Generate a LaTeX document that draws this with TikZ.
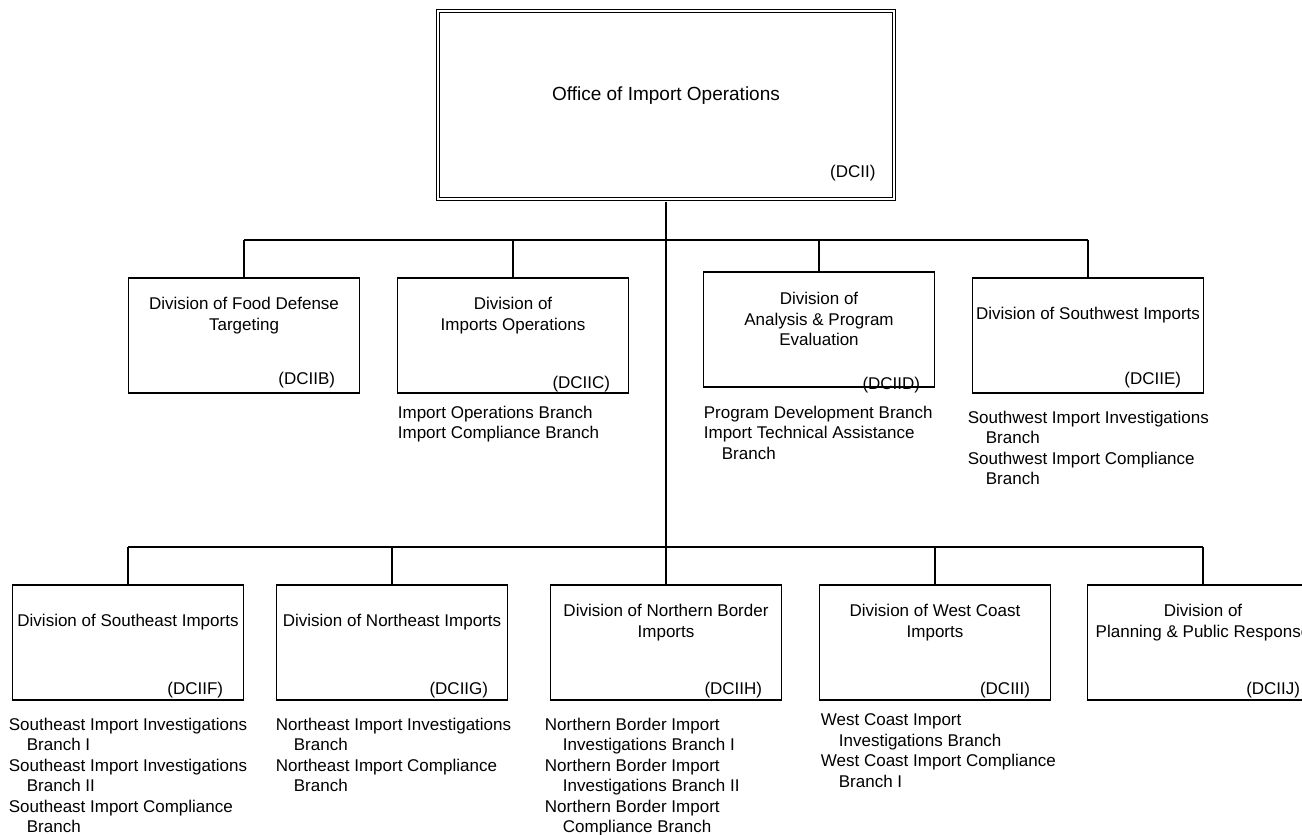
\documentclass[tikz,border=0pt]{standalone}
\usepackage{fontspec}
\setmainfont{Liberation Sans}
\usetikzlibrary{positioning,calc}

\tikzset{
  divbox/.style={draw,line width=1.6pt,minimum width=231pt,minimum height=115pt,inner sep=0pt},
  divname/.style={align=center,inner sep=0pt,font=\fontsize{17}{20.5}\selectfont},
  divcode/.style={inner sep=0pt,anchor=base east,font=\fontsize{17}{20.5}\selectfont},
  branches/.style={align=left,inner sep=0pt,font=\fontsize{17}{20.5}\selectfont},
  link/.style={line width=1.6pt}
}
\newcommand{\subline}{\hspace*{18pt}}

\begin{document}
\begin{tikzpicture}[x=1pt,y=-1pt,line cap=butt]
        % page size and clipping
        \useasboundingbox (0,0) rectangle (1302,835);
        \fill[white] (0,0) rectangle (1302,835);
        \clip (0,0) rectangle (1302,835);
        % draw the office
        \node[draw,double,double distance=1.8pt,line width=1.4pt,minimum width=456pt,minimum height=188pt] (office) at (666,105) {};
        \node[anchor=base,inner sep=0pt,font=\fontsize{19}{23}\selectfont] (officename) at ($(office.center)+(0,-5)$) {Office of Import Operations};
        \node[divcode] (officecode) at ($(office.south east)+(-19,-22)$) {(DCII)};
        % draw the first row of divisions
        \node[divbox] (dcIIb) at (244,335.5) {};
        \node[divbox] (dcIIc) at (513,335.5) {};
        \node[divbox] (dcIId) at (819,329.5) {};
        \node[divbox] (dcIIe) at (1088,335.5) {};
        \node[divname,below=20pt of dcIIb.north] (dcIIbname) {Division of Food Defense\\Targeting};
        \node[divname,below=20pt of dcIIc.north] (dcIIcname) {Division of\\Imports Operations};
        \node[divname,below=21pt of dcIId.north] (dcIIdname) {Division of\\Analysis \& Program\\Evaluation};
        \node[divname,below=30pt of dcIIe.north] (dcIIename) {Division of Southwest Imports};
        \node[divcode] (dcIIbcode) at ($(dcIIb.south east)+(-25,-9)$) {(DCIIB)};
        \node[divcode] (dcIIccode) at ($(dcIIc.south east)+(-19,-5)$) {(DCIIC)};
        \node[divcode] (dcIIdcode) at ($(dcIId.south east)+(-15,2)$) {(DCIID)};
        \node[divcode] (dcIIecode) at ($(dcIIe.south east)+(-23,-9)$) {(DCIIE)};
        \node[branches,below right=12pt and 1pt of dcIIc.south west] (dcIIcbr) {Import Operations Branch\\Import Compliance Branch};
        \node[branches,below right=18pt and 1pt of dcIId.south west] (dcIIdbr) {Program Development Branch\\Import Technical Assistance\\\subline Branch};
        \node[branches,below right=17pt and -4pt of dcIIe.south west] (dcIIebr) {Southwest Import Investigations\\\subline Branch\\Southwest Import Compliance\\\subline Branch};
        % draw the second row of divisions
        \node[divbox] (dcIIf) at (128,642.5) {};
        \node[divbox] (dcIIg) at (392,642.5) {};
        \node[divbox] (dcIIh) at (666,642.5) {};
        \node[divbox] (dcIIi) at (935,642.5) {};
        \node[divbox] (dcIIj) at (1203,642.5) {};
        \node[divname,below=30pt of dcIIf.north] (dcIIfname) {Division of Southeast Imports};
        \node[divname,below=30pt of dcIIg.north] (dcIIgname) {Division of Northeast Imports};
        \node[divname,below=20pt of dcIIh.north] (dcIIhname) {Division of Northern Border\\Imports};
        \node[divname,below=20pt of dcIIi.north] (dcIIiname) {Division of West Coast\\Imports};
        \node[divname,below=20pt of dcIIj.north] (dcIIjname) {Division of\\Planning \& Public Response};
        \node[divcode] (dcIIfcode) at ($(dcIIf.south east)+(-21,-6)$) {(DCIIF)};
        \node[divcode] (dcIIgcode) at ($(dcIIg.south east)+(-20,-6)$) {(DCIIG)};
        \node[divcode] (dcIIhcode) at ($(dcIIh.south east)+(-20,-6)$) {(DCIIH)};
        \node[divcode] (dcIIicode) at ($(dcIIi.south east)+(-21,-6)$) {(DCIII)};
        \node[divcode] (dcIIjcode) at ($(dcIIj.south east)+(-19,-6)$) {(DCIIJ)};
        \node[branches,below right=17pt and -3pt of dcIIf.south west] (dcIIfbr) {Southeast Import Investigations\\\subline Branch I\\Southeast Import Investigations\\\subline Branch II\\Southeast Import Compliance\\\subline Branch};
        \node[branches,below right=17pt and 0pt of dcIIg.south west] (dcIIgbr) {Northeast Import Investigations\\\subline Branch\\Northeast Import Compliance\\\subline Branch};
        \node[branches,below right=17pt and -5pt of dcIIh.south west] (dcIIhbr) {Northern Border Import\\\subline Investigations Branch I\\Northern Border Import\\\subline Investigations Branch II\\Northern Border Import\\\subline Compliance Branch};
        \node[branches,below right=13pt and 2pt of dcIIi.south west] (dcIIibr) {West Coast Import\\\subline Investigations Branch\\West Coast Import Compliance\\\subline Branch I};
        % draw the connectors
        \coordinate (bar1) at (666,240);
        \coordinate (bar2) at (666,547);
        \draw[link] ($(office.south)+(0,2)$) -- (office.south |- bar2);
        \draw[link] (dcIIb.north |- bar1) -- (dcIIe.north |- bar1);
        \draw[link] (dcIIf.north |- bar2) -- (dcIIj.north |- bar2);
        \foreach \n in {dcIIb,dcIIc,dcIId,dcIIe}
          \draw[link] (\n.north) -- (\n.north |- bar1);
        \foreach \n in {dcIIf,dcIIg,dcIIh,dcIIi,dcIIj}
          \draw[link] (\n.north) -- (\n.north |- bar2);
\end{tikzpicture}
\end{document}
